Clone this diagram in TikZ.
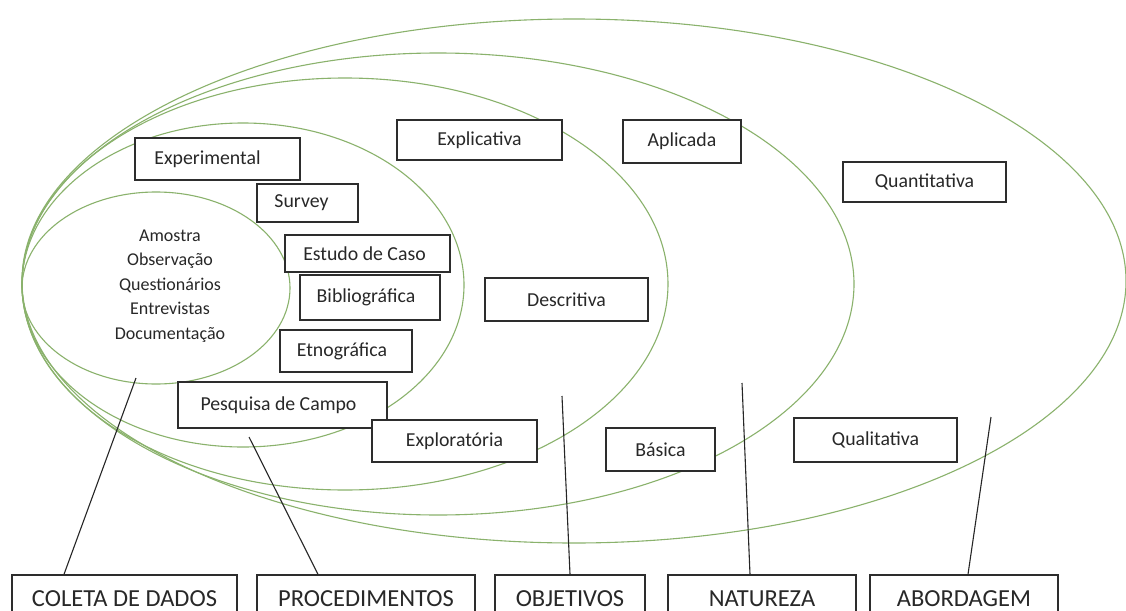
\documentclass[tikz,border=0pt]{standalone}
\usepackage{fontspec}
\setmainfont{Carlito}
\definecolor{ellgreen}{RGB}{138,178,108}
\definecolor{boxgray}{RGB}{45,45,45}
\definecolor{txtgray}{RGB}{40,40,40}
\begin{document}
\begin{tikzpicture}[x=1pt,y=-1pt,
  ell/.style={draw=ellgreen,line width=1.1pt},
  bx/.style={draw=boxgray,fill=white,line width=1.4pt,inner sep=0pt,font=\fontsize{19.8}{23}\selectfont,text=txtgray},
  cat/.style={draw=boxgray,fill=white,line width=1.4pt,inner sep=0pt,minimum height=37},
  cattxt/.style={anchor=base,inner sep=0pt,font=\fontsize{24.5}{28}\selectfont,text=txtgray},
  conn/.style={draw=black!85,line width=1.1pt}]
\clip (0,0) rectangle (1126,610);
\fill[white] (0,0) rectangle (1126,610);
% ellipses
\draw[ell] (156,288) ellipse [x radius=134, y radius=96];
\draw[ell] (243,285) ellipse [x radius=221, y radius=162];
\draw[ell] (345,284) ellipse [x radius=323, y radius=206];
\draw[ell] (438,284) ellipse [x radius=416, y radius=231];
\draw[ell] (574,281) ellipse [x radius=552, y radius=262];
% text of inner ellipse
\node[align=center,font=\fontsize{18}{24.5}\selectfont,text=txtgray] (coletatxt) at (170,286)
  {Amostra\\Observação\\Questionários\\Entrevistas\\Documentação};
% boxes
\node[bx,minimum width=165,minimum height=42] (experimental) at (217.5,159) {\hspace*{-20pt}Experimental};
\node[bx,minimum width=101,minimum height=38] (survey) at (307.5,203) {\hspace*{-12pt}Survey};
\node[bx,minimum width=165,minimum height=37] (estudo) at (367.5,253.5) {\hspace*{-6pt}Estudo de Caso};
\node[bx,minimum width=140,minimum height=45] (biblio) at (370,297.5) {\hspace*{-8pt}Bibliográfica};
\node[bx,minimum width=132,minimum height=42] (etno) at (346,351) {\hspace*{-8pt}Etnográfica};
\node[bx,minimum width=209,minimum height=46] (campo) at (282.5,405) {\hspace*{-8pt}Pesquisa de Campo};
\node[bx,minimum width=165,minimum height=42] (explor) at (454.5,441) {Exploratória};
\node[bx,minimum width=165,minimum height=40] (explic) at (479.5,140) {Explicativa};
\node[bx,minimum width=163,minimum height=43] (descr) at (566.5,299.5) {Descritiva};
\node[bx,minimum width=118,minimum height=43] (aplic) at (682,141.5) {Aplicada};
\node[bx,minimum width=109,minimum height=43] (basica) at (660.5,449.5) {Básica};
\node[bx,minimum width=163,minimum height=40] (quanti) at (924.5,182) {Quantitativa};
\node[bx,minimum width=163,minimum height=44] (quali) at (875.5,440) {Qualitativa};
% category boxes (bottom edge lies below the picture, as in the reference)
\node[cat,minimum width=225] (coleta) at (124.5,593.5) {};
\node[cat,minimum width=218] (proced) at (366,593.5) {};
\node[cat,minimum width=150] (objet) at (570,593.5) {};
\node[cat,minimum width=188] (natur) at (762,593.5) {};
\node[cat,minimum width=188] (abord) at (964,593.5) {};
\node[cattxt] (coletaT) at (124.5,606) {COLETA DE DADOS};
\node[cattxt] (procedT) at (366,606) {PROCEDIMENTOS};
\node[cattxt] (objetT) at (570,606) {OBJETIVOS};
\node[cattxt] (naturT) at (762,606) {NATUREZA};
\node[cattxt] (abordT) at (964,606) {ABORDAGEM};
% connector free ends
\coordinate (c1) at (136,378);
\coordinate (c2) at (249,437);
\coordinate (c3) at (562,396);
\coordinate (c4) at (742,383);
\coordinate (c5) at (991,417);
\draw[conn] (c1) -- ([xshift=-60.5pt]coleta.north);
\draw[conn] (c2) -- ([xshift=-48pt]proced.north);
\draw[conn] (c3) -- (objet.north);
\draw[conn] (c4) -- ([xshift=-12pt]natur.north);
\draw[conn] (c5) -- ([xshift=4pt]abord.north);
\end{tikzpicture}
\end{document}
